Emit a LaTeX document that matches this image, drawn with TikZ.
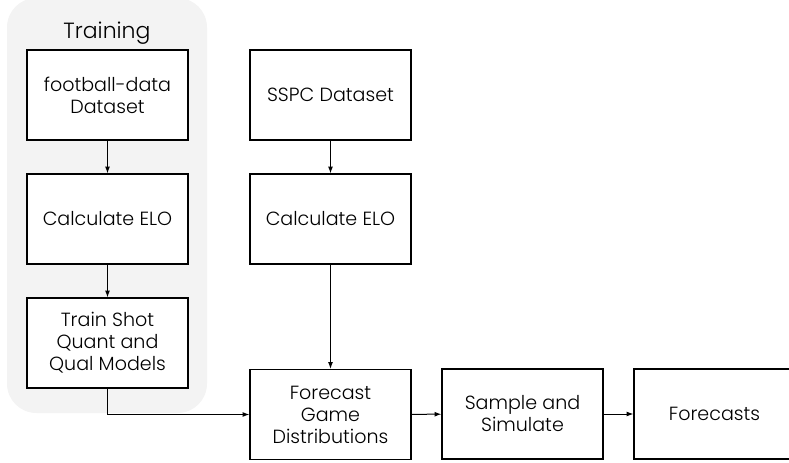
\documentclass[tikz,border=0pt]{standalone}
\usepackage{fontspec}
\setmainfont{Poppins}[UprightFont=* Light]
\usetikzlibrary{positioning, arrows.meta}

\definecolor{trainbg}{RGB}{243,243,243}

\begin{document}
\begin{tikzpicture}[x=0.75pt,y=0.75pt,yscale=-1,
  stepbox/.style={draw, fill=white, line width=0.9pt, minimum width=120.75pt, minimum height=67.5pt,
    inner sep=0pt, align=center, font=\fontsize{14.3}{16.5}\selectfont},
  flow/.style={-{Latex[length=5pt,width=3.6pt]}, line width=0.75pt}]
\useasboundingbox (0,0) rectangle (789,463);
% training group
\fill [trainbg, rounded corners=22pt] (7,-2) rectangle (207,413);
\node (trainlabel) at (107,33) [font=\fontsize{16.5}{19}\selectfont] {Training};
% left column
\node (fdata) at (107.5,95) [stepbox] {football-data\\Dataset};
\node (eloa) at (107.5,219) [stepbox] {Calculate ELO};
\node (trainmod) at (107.5,343) [stepbox] {Train Shot\\Quant and\\Qual Models};
% middle column
\node (sspc) at (330.5,95) [stepbox] {SSPC Dataset};
\node (elob) at (330.5,219) [stepbox] {Calculate ELO};
\node (fcgame) at (330.5,414.5) [stepbox] {Forecast\\Game\\Distributions};
% bottom row
\node (simul) at (522.5,414) [stepbox] {Sample and\\Simulate};
\node (fcast) at (714.5,414) [stepbox] {Forecasts};
% connectors
\draw [flow] (fdata) -- (eloa);
\draw [flow] (eloa) -- (trainmod);
\draw [flow] (sspc) -- (elob);
\draw [flow] (elob) -- (fcgame);
\draw [flow] (trainmod) |- (fcgame);
\draw [flow] (fcgame) -- (simul);
\draw [flow] (simul) -- (fcast);
\end{tikzpicture}
\end{document}
